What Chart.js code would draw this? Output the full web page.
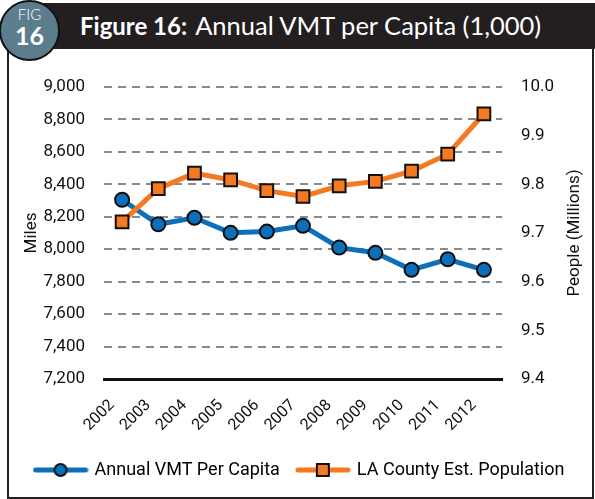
<!DOCTYPE html>
<html>
<head>
<meta charset="utf-8">
<script src="https://cdn.jsdelivr.net/npm/chart.js@4"></script>
<style>
  body { margin: 0; background: #fff; }
  #wrap { position: relative; width: 595px; height: 499px; overflow: hidden; }
  .frame { position: absolute; left: 7px; top: 44px; width: 587px; height: 455px; box-sizing: border-box; border: 2px solid #231f20; }
  .bar { position: absolute; left: 40px; top: 3px; width: 555px; height: 46px; background: #231f20; }
  .badge { position: absolute; left: -1px; top: 0px; width: 61px; height: 61px; box-sizing: border-box; border: 2px solid #111; border-radius: 50%; background: #5b7d8e; color: #fff; text-align: center; font-family: Lato, sans-serif; }
  .badge .fig { position: absolute; left: 0; right: 0; top: 4px; font-size: 15px; line-height: 16px; font-weight: 300; }
  .badge .num { position: absolute; left: 0; right: 0; top: 20px; font-size: 25px; line-height: 26px; font-weight: bold; }
  .title { position: absolute; left: 80px; top: 10px; color: #fff; font-family: Lato, sans-serif; font-size: 25.5px; line-height: 30px; white-space: nowrap; }
  .title b { font-size: 24px; font-weight: bold; margin-right: 8px; }
  #box { position: absolute; left: 10px; top: 50px; width: 580px; height: 445px; }
</style>
</head>
<body>
<div id="wrap">
  <div class="frame"></div>
  <div class="bar"></div>
  <div class="badge"><div class="fig">FIG</div><div class="num">16</div></div>
  <div class="title"><b>Figure 16:</b>Annual VMT per Capita (1,000)</div>
  <div id="box"><canvas id="myChart"></canvas></div>
</div>
<script>
const years = ['2002', '2003', '2004', '2005', '2006', '2007', '2008', '2009', '2010', '2011', '2012'];
const vmtPerCapita = [8305, 8154, 8194, 8101, 8109, 8144, 8010, 7978, 7873, 7938, 7873];
const population = [9.723, 9.791, 9.823, 9.809, 9.787, 9.775, 9.797, 9.806, 9.827, 9.862, 9.945];
const seriesNames = ['Annual VMT Per Capita', 'LA County Est. Population'];

const blue = '#0b6fbb';
const orange = '#f47920';
const font = 'Roboto, sans-serif';

// little line + marker picture for each legend entry
function legendIcon(color, shape) {
  const c = document.createElement('canvas');
  c.width = 56; c.height = 18;
  const g = c.getContext('2d');
  g.strokeStyle = color; g.lineWidth = 5; g.lineCap = 'round';
  g.beginPath(); g.moveTo(3, 9); g.lineTo(53, 9); g.stroke();
  g.fillStyle = color; g.strokeStyle = '#111'; g.lineWidth = 2;
  g.beginPath();
  if (shape === 'circle') g.arc(28, 9, 6, 0, Math.PI * 2);
  else g.rect(22, 3, 12, 12);
  g.fill(); g.stroke();
  return c;
}
const icons = [legendIcon(blue, 'circle'), legendIcon(orange, 'rect')];

// right axis title reads bottom-to-top like the left one
const rightTitle = {
  id: 'rightTitle',
  afterDraw(chart) {
    const a = chart.chartArea, g = chart.ctx;
    g.save();
    g.translate(565, (a.top + a.bottom) / 2);
    g.rotate(-Math.PI / 2);
    g.fillStyle = '#111';
    g.font = '17px ' + font;
    g.textAlign = 'center';
    g.textBaseline = 'middle';
    g.fillText('People (Millions)', 0, 0);
    g.restore();
  }
};

const ctx = document.getElementById('myChart');

new Chart(ctx, {
  type: 'line',
  data: {
    labels: years,
    datasets: [{
      label: seriesNames[0],
      data: vmtPerCapita,
      yAxisID: 'y',
      borderColor: blue,
      backgroundColor: blue,
      borderWidth: 5,
      pointStyle: 'circle',
      pointRadius: 7,
      pointBorderWidth: 2,
      pointBorderColor: '#111',
      pointBackgroundColor: blue,
      order: 1
    }, {
      label: seriesNames[1],
      data: population,
      yAxisID: 'y2',
      borderColor: orange,
      backgroundColor: orange,
      borderWidth: 5,
      pointStyle: 'rect',
      pointRadius: 9,
      pointBorderWidth: 2,
      pointBorderColor: '#111',
      pointBackgroundColor: orange,
      order: 0
    }]
  },
  options: {
    responsive: true,
    maintainAspectRatio: false,
    animation: false,
    layout: { padding: { top: 37, left: 0, right: 0, bottom: 6 } },
    plugins: {
      tooltip: { enabled: false },
      legend: {
        position: 'bottom',
        labels: {
          usePointStyle: true,
          pointStyleWidth: 50,
          padding: 18,
          color: '#111',
          font: { family: font, size: 18 },
          generateLabels: () => seriesNames.map((name, i) => ({
            text: name, pointStyle: icons[i], datasetIndex: i,
            fillStyle: 'transparent', strokeStyle: 'transparent', lineWidth: 0
          }))
        }
      }
    },
    scales: {
      x: {
        offset: true,
        grid: { display: false, drawTicks: false },
        border: { display: true, color: '#111', width: 3 },
        ticks: { color: '#111', font: { family: font, size: 16 }, minRotation: 45, maxRotation: 45, padding: 17, labelOffset: -10 },
        afterFit: s => { s.height = 64; }
      },
      y: {
        position: 'left',
        min: 7200, max: 9000,
        grid: {
          drawTicks: false, lineWidth: 2,
          color: c => c.tick && c.tick.value === 7200 ? 'rgba(0,0,0,0)' : '#8a8a8a'
        },
        border: { display: false, dash: [8, 6] },
        ticks: { stepSize: 200, padding: 19, color: '#111', font: { family: font, size: 17 },
          callback: v => v.toLocaleString('en-US') },
        title: { display: true, text: 'Miles', color: '#111', font: { family: font, size: 17 }, padding: { top: 12 } },
        afterFit: s => { s.width = 94; }
      },
      y2: {
        position: 'right',
        min: 9.4, max: 10.0,
        grid: { display: false, drawTicks: false },
        border: { display: false },
        ticks: { stepSize: 0.1, padding: 19, color: '#111', font: { family: font, size: 17 },
          callback: v => v.toFixed(1) },
        afterFit: s => { s.width = 88; }
      }
    }
  },
  plugins: [rightTitle]
});
</script>
</body>
</html>
